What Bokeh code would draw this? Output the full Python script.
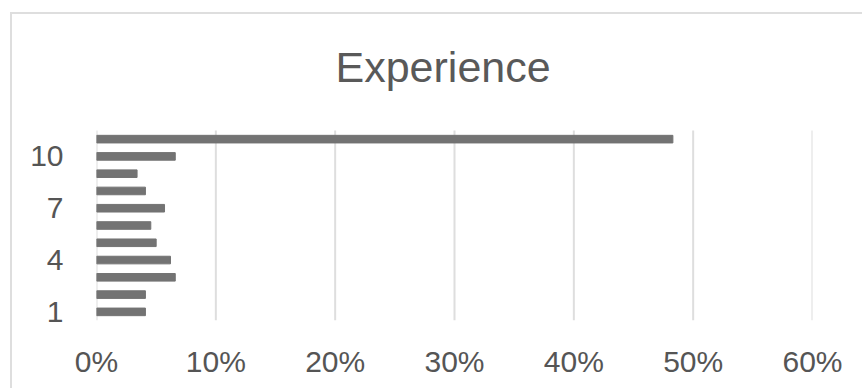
from bokeh.plotting import figure
from bokeh.models import FixedTicker, NumeralTickFormatter
from bokeh.core.properties import value
from bokeh.embed import file_html
from bokeh.resources import INLINE

categories = [1, 2, 3, 4, 5, 6, 7, 8, 9, 10, 11]
shares = [0.041, 0.041, 0.066, 0.062, 0.050, 0.0455, 0.057, 0.041, 0.034, 0.066, 0.483]
x_ticks = [0, 0.1, 0.2, 0.3, 0.4, 0.5, 0.6]
y_ticks = [1, 4, 7, 10]
title_text = "Experience"

y_lo, y_hi = 0.5, 11.5          # category band of the bars
y_top = 18.216                   # frame extends above the bars to hold the title

p = figure(width=852, height=376, output_backend="svg", toolbar_location=None,
           x_range=(0, 0.6), y_range=(y_lo, y_top),
           min_border_left=84, min_border_right=52, min_border_top=0, min_border_bottom=70)
p.styles = {"margin-left": "10px", "margin-top": "12px",
            "border-left": "2px solid #dedede", "border-top": "2px solid #dedede"}

# vertical gridlines limited to the bar band
p.segment(x0=x_ticks, y0=[y_lo] * len(x_ticks), x1=x_ticks, y1=[y_hi] * len(x_ticks),
          line_color="#dedede", line_width=2)

p.hbar(y=categories, right=shares, left=0, height=0.44, color="#737373")

p.text(x=[0.2003], y=[15.15], text=[title_text], text_font=value("Liberation Sans"),
       text_font_size="43px", text_color="#595959", text_align="left",
       text_baseline="alphabetic")

p.outline_line_color = None
p.background_fill_color = "white"
p.border_fill_color = "white"

p.xaxis.ticker = FixedTicker(ticks=x_ticks)
p.xaxis.formatter = NumeralTickFormatter(format="0%")
p.yaxis.ticker = FixedTicker(ticks=y_ticks)
for ax in (p.xaxis, p.yaxis):
    ax.axis_line_color = None
    ax.major_tick_line_color = None
    ax.minor_tick_line_color = None
    ax.major_label_text_font = "Liberation Sans"
    ax.major_label_text_font_size = "30px"
    ax.major_label_text_color = "#555555"
p.xaxis.major_label_standoff = 18
p.yaxis.major_label_standoff = 27

p.xgrid.grid_line_color = None
p.ygrid.grid_line_color = None

open("out.html", "w").write(file_html(p, INLINE))
